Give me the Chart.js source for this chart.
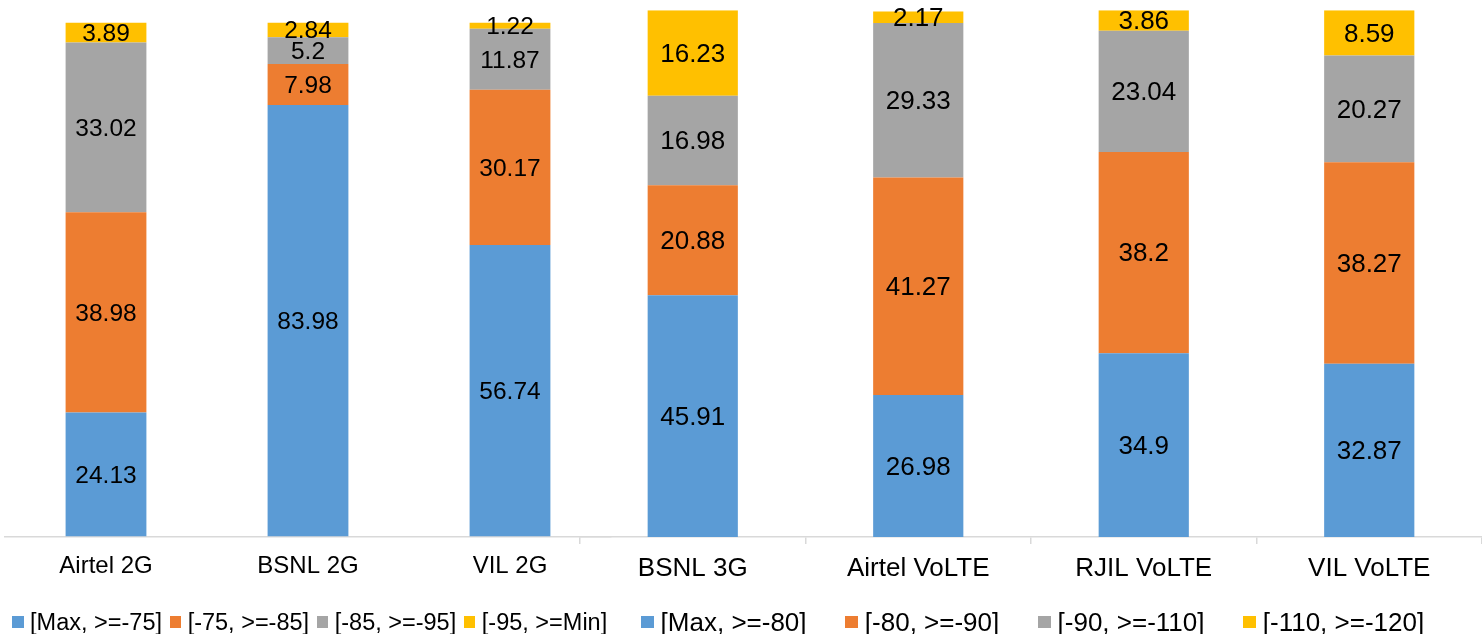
<!DOCTYPE html>
<html>
<head>
<meta charset="utf-8">
<script src="https://cdn.jsdelivr.net/npm/chart.js@4.4.1/dist/chart.umd.min.js"></script>
<style>
    body { margin: 0; background: #fff; width: 1482px; height: 634px; overflow: hidden; position: relative; font-family: "Liberation Sans", Arial, sans-serif; }
    canvas { position: absolute; top: 0; }
    #chart-2g { left: 0; }
    #chart-4g { left: 560px; }
    .legend { position: absolute; top: 608px; height: 28px; display: flex; align-items: center; white-space: nowrap; color: #000; line-height: 28px; }
    .legend .item { display: flex; align-items: center; }
    .legend .box { display: inline-block; }
    #legend-2g { left: 12px; font-size: 23.5px; }
    #legend-2g .box { width: 11.6px; height: 11.6px; margin-right: 6.5px; }
    #legend-2g .item { margin-right: 7.5px; }
    #legend-4g { left: 641px; font-size: 26px; }
    #legend-4g .box { width: 12.6px; height: 12.6px; margin-right: 7px; }
    #legend-4g .item { margin-right: 38.7px; }
</style>
</head>
<body>
<canvas id="chart-2g" width="615" height="634"></canvas>
<canvas id="chart-4g" width="922" height="634"></canvas>
<div class="legend" id="legend-2g"></div>
<div class="legend" id="legend-4g"></div>

<script>
// 2G operators (signal bands in dBm)
const operators2G = ['Airtel 2G', 'BSNL 2G', 'VIL 2G'];
const bands2G = ['[Max, >=-75]', '[-75, >=-85]', '[-85, >=-95]', '[-95, >=Min]'];
const best2G = [24.13, 83.98, 56.74];
const good2G = [38.98, 7.98, 30.17];
const fair2G = [33.02, 5.2, 11.87];
const weak2G = [3.89, 2.84, 1.22];

// 3G / VoLTE operators
const operators4G = ['BSNL 3G', 'Airtel VoLTE', 'RJIL VoLTE', 'VIL VoLTE'];
const bands4G = ['[Max, >=-80]', '[-80, >=-90]', '[-90, >=-110]', '[-110, >=-120]'];
const best4G = [45.91, 26.98, 34.9, 32.87];
const good4G = [20.88, 41.27, 38.2, 38.27];
const fair4G = [16.98, 29.33, 23.04, 20.27];
const weak4G = [16.23, 2.17, 3.86, 8.59];

const colors = ['#5B9BD5', '#ED7D31', '#A5A5A5', '#FFC000'];
const FONT = '"Liberation Sans", Arial, sans-serif';

// Values written in the middle of each stacked segment
const valueLabels = {
    id: 'valueLabels',
    afterDatasetsDraw(chart, args, opts) {
        const ctx = chart.ctx;
        ctx.save();
        ctx.font = `${opts.size}px ${FONT}`;
        ctx.fillStyle = '#000';
        ctx.textAlign = 'center';
        ctx.textBaseline = 'middle';
        chart.data.datasets.forEach((ds, i) => {
            chart.getDatasetMeta(i).data.forEach((bar, j) => {
                const { x, y, base } = bar.getProps(['x', 'y', 'base'], true);
                ctx.fillText(String(ds.data[j]), x, (y + base) / 2 + 1.5);
            });
        });
        ctx.restore();
    }
};

function buildDatasets(bands, series) {
    return bands.map((label, i) => ({
        label: label,
        data: series[i],
        backgroundColor: colors[i],
        borderWidth: 0,
        barPercentage: 0.4,
        categoryPercentage: 1
    }));
}

function makeChart(id, labels, datasets, cfg) {
    return new Chart(document.getElementById(id), {
        type: 'bar',
        data: { labels: labels, datasets: datasets },
        plugins: [valueLabels],
        options: {
            responsive: false,
            animation: false,
            layout: { padding: cfg.padding },
            plugins: {
                legend: { display: false },
                tooltip: { enabled: false },
                valueLabels: { size: cfg.valueSize }
            },
            scales: {
                x: {
                    stacked: true,
                    grid: { display: true, drawOnChartArea: false, drawTicks: cfg.ticks, tickLength: 7, color: '#d9d9d9', lineWidth: 1.5 },
                    border: { display: true, color: '#d9d9d9', width: 1.5 },
                    ticks: { color: '#000', padding: cfg.tickPadding, font: { family: FONT, size: cfg.labelSize } }
                },
                y: { stacked: true, display: false, min: 0, max: 100 }
            }
        }
    });
}

function buildLegend(id, bands) {
    const el = document.getElementById(id);
    bands.forEach((b, i) => {
        el.innerHTML += `<span class="item"><span class="box" style="background:${colors[i]}"></span>${b}</span>`;
    });
}

makeChart('chart-2g', operators2G, buildDatasets(bands2G, [best2G, good2G, fair2G, weak2G]), {
    padding: { left: 5, right: 4, top: 22.6, bottom: 38.7 },
    ticks: false, tickPadding: 15, labelSize: 24, valueSize: 24.5
});

makeChart('chart-4g', operators4G, buildDatasets(bands4G, [best4G, good4G, fair4G, weak4G]), {
    padding: { left: 20, right: 0, top: 10.3, bottom: 40 },
    ticks: true, tickPadding: 9.4, labelSize: 26, valueSize: 26
});

buildLegend('legend-2g', bands2G);
buildLegend('legend-4g', bands4G);
</script>
</body>
</html>
